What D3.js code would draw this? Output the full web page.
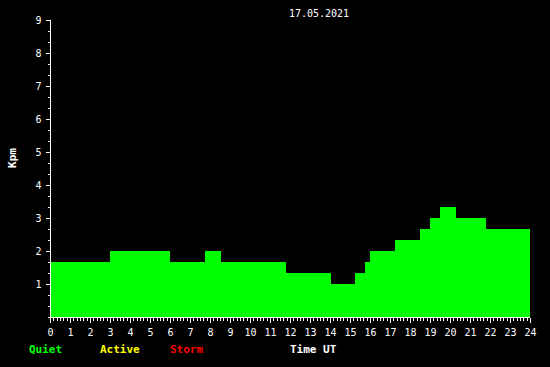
<!DOCTYPE html>
<html>
<head>
<meta charset="utf-8">
<script src="https://cdn.jsdelivr.net/npm/d3@7"></script>
<style>
  body { margin: 0; background: #000; }
  svg text { font-family: "DejaVu Sans Mono", monospace; }
</style>
</head>
<body>
<div id="chart"></div>
<script>
// Kp steps: each value holds from stepStart[i] to stepStart[i+1] (hours UT)
const stepStart = [0, 3, 6, 7.75, 8.55, 11.8, 14.05, 15.25, 15.75, 16, 17.25, 18.5, 19, 19.5, 20.3, 21.8, 24];
const kpValues = [1.667, 2, 1.667, 2, 1.667, 1.333, 1, 1.333, 1.667, 2, 2.333, 2.667, 3, 3.333, 3, 2.667];
const yTicks = [1, 2, 3, 4, 5, 6, 7, 8, 9];
const xTicks = d3.range(0, 25);
const title = "17.05.2021";
const legend = [
  { label: "Quiet", color: "#00ff00", x: 29 },
  { label: "Active", color: "#ffff00", x: 100 },
  { label: "Storm", color: "#ff0000", x: 170 },
  { label: "Time UT", color: "#ffffff", x: 290 }
];

const width = 550, height = 367;
const margin = { top: 20, right: 20, bottom: 50, left: 50 };

const svg = d3.select("#chart")
  .append("svg")
  .attr("width", width)
  .attr("height", height)
  .style("background", "#000");

const x = d3.scaleLinear().domain([0, 24]).range([50, 530]);
const y = d3.scaleLinear().domain([0, 9]).range([317, 20]);

// build points for step area (repeat last value at the end)
const pts = stepStart.map((h, i) => ({ h: h, v: kpValues[Math.min(i, kpValues.length - 1)] }));

const area = d3.area()
  .curve(d3.curveStepAfter)
  .x(d => x(d.h))
  .y0(y(0))
  .y1(d => y(d.v));

svg.append("path")
  .datum(pts)
  .attr("d", area)
  .attr("fill", "#00ff00")
  .attr("shape-rendering", "crispEdges");

// y axis: major ticks with labels, minor every 1/3
const yMinor = d3.range(0, 28).map(i => i / 3);
svg.append("g")
  .attr("transform", "translate(50.5,0)")
  .call(d3.axisLeft(y).tickValues(yMinor).tickSize(3).tickFormat(""))
  .call(g => g.select(".domain").remove());
svg.append("g")
  .attr("transform", "translate(50.5,0)")
  .call(d3.axisLeft(y).tickValues(yTicks).tickSize(5).tickSizeOuter(0).tickPadding(4).tickFormat(d3.format("d")))
  .call(g => g.select(".domain").attr("d", `M0,${y(9)}V${y(0)}`));

// x axis: major ticks each hour, minor every 10 minutes
const xMinor = d3.range(0, 24 * 6 + 1).map(i => i / 6);
svg.append("g")
  .attr("transform", "translate(0,317.5)")
  .call(d3.axisBottom(x).tickValues(xMinor).tickSize(3).tickFormat(""))
  .call(g => g.select(".domain").remove());
svg.append("g")
  .attr("transform", "translate(0,317.5)")
  .call(d3.axisBottom(x).tickValues(xTicks).tickSize(5).tickSizeOuter(0).tickPadding(6).tickFormat(d3.format("d")))
  .call(g => g.select(".domain").attr("d", `M${x(0)},0H${x(24)}`));

svg.selectAll(".tick line, .domain")
  .attr("stroke", "#fff")
  .attr("shape-rendering", "crispEdges");
svg.selectAll(".tick text")
  .attr("fill", "#fff")
  .style("font-size", "10px");

// title
svg.append("text")
  .attr("x", 319)
  .attr("y", 17)
  .attr("text-anchor", "middle")
  .attr("fill", "#fff")
  .style("font-size", "10px")
  .text(title);

// y label
svg.append("text")
  .attr("transform", "translate(16,158) rotate(-90)")
  .attr("text-anchor", "middle")
  .attr("fill", "#fff")
  .style("font-size", "11px")
  .style("font-weight", "bold")
  .text("Kpm");

// legend and x label
svg.selectAll(".legend")
  .data(legend)
  .join("text")
  .attr("class", "legend")
  .attr("x", d => d.x)
  .attr("y", 353)
  .attr("fill", d => d.color)
  .style("font-size", "11px")
  .style("font-weight", "bold")
  .text(d => d.label);
</script>
</body>
</html>
